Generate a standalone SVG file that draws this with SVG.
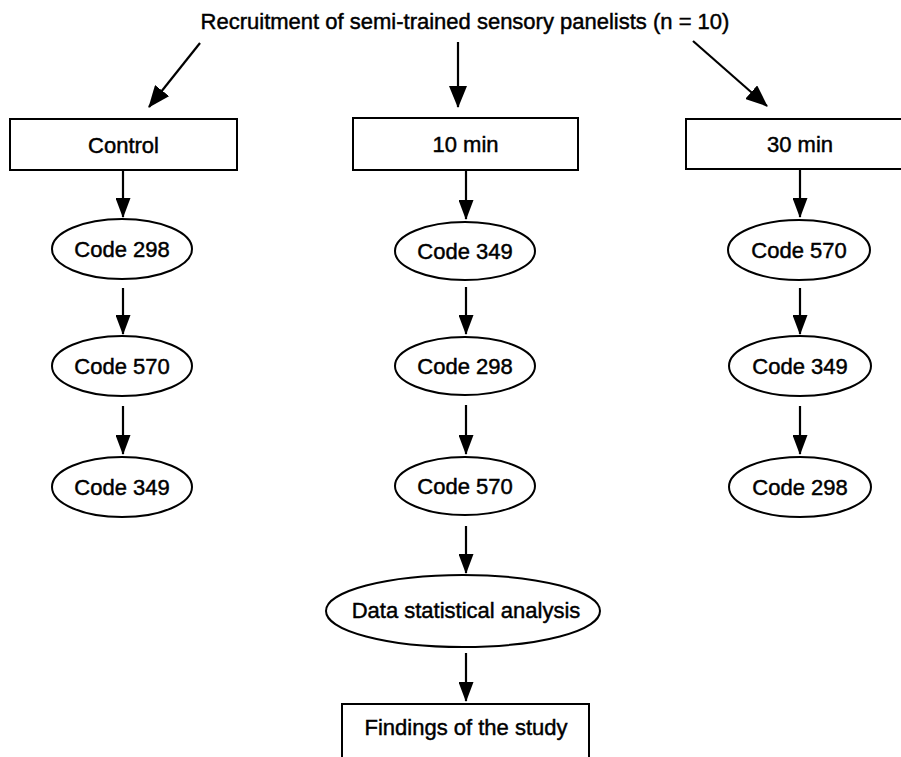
<svg xmlns="http://www.w3.org/2000/svg" width="901" height="757" viewBox="0 0 901 757">
<style>
  text { font-family: "Liberation Sans", Arial, sans-serif; font-size: 22px; fill: #000; stroke: #000; stroke-width: 0.45; text-anchor: middle; }
  .box { fill: #fff; stroke: #000; stroke-width: 2; }
  .ell { fill: #fff; stroke: #000; stroke-width: 2; }
  .con { stroke: #000; stroke-width: 2.2; fill: none; }
  .con line { marker-end: url(#ah); }
  .con line.big { marker-end: url(#ahb); }
</style>
<defs>
  <marker id="ah" markerUnits="userSpaceOnUse" viewBox="0 0 20 15" refX="19" refY="7.5" markerWidth="20" markerHeight="15" orient="auto">
    <path d="M0,0 L20,7.5 L0,15 z" fill="#000"/>
  </marker>
  <marker id="ahb" markerUnits="userSpaceOnUse" viewBox="0 0 22 18" refX="21" refY="9" markerWidth="22" markerHeight="18" orient="auto">
    <path d="M0,0 L22,9 L0,18 z" fill="#000"/>
  </marker>
</defs>
<rect width="901" height="757" fill="#fff"/>

<g id="title"><text x="465" y="29">Recruitment of semi-trained sensory panelists (n = 10)</text></g>

<g id="control"><rect class="box" x="10" y="119" width="227" height="51"/><text x="123.5" y="152.5">Control</text></g>
<g id="min10"><rect class="box" x="353" y="118" width="225" height="52"/><text x="465.5" y="152">10 min</text></g>
<g id="min30"><rect class="box" x="686" y="119" width="228" height="50"/><text x="800" y="152">30 min</text></g>

<g id="c1e1"><ellipse class="ell" cx="122" cy="249" rx="70" ry="30"/><text x="122" y="257">Code 298</text></g>
<g id="c1e2"><ellipse class="ell" cx="122" cy="366" rx="70" ry="30"/><text x="122" y="374">Code 570</text></g>
<g id="c1e3"><ellipse class="ell" cx="122" cy="487" rx="70" ry="30"/><text x="122" y="495">Code 349</text></g>

<g id="c2e1"><ellipse class="ell" cx="465" cy="251" rx="70" ry="29"/><text x="465" y="259">Code 349</text></g>
<g id="c2e2"><ellipse class="ell" cx="465" cy="366" rx="70" ry="29"/><text x="465" y="374">Code 298</text></g>
<g id="c2e3"><ellipse class="ell" cx="465" cy="486" rx="70" ry="29"/><text x="465" y="494">Code 570</text></g>

<g id="c3e1"><ellipse class="ell" cx="799" cy="250" rx="71" ry="30"/><text x="799" y="258">Code 570</text></g>
<g id="c3e2"><ellipse class="ell" cx="800" cy="366" rx="71" ry="30"/><text x="800" y="374">Code 349</text></g>
<g id="c3e3"><ellipse class="ell" cx="800" cy="487" rx="71" ry="30"/><text x="800" y="495">Code 298</text></g>

<g id="data"><ellipse class="ell" cx="463" cy="611" rx="137" ry="36"/><text x="466" y="618">Data statistical analysis</text></g>
<g id="findings"><rect class="box" x="342" y="704" width="247" height="60"/><text x="466" y="735">Findings of the study</text></g>

<g id="connectors" class="con">
  <line class="big" x1="200" y1="43" x2="149" y2="107"/>
  <line class="big" x1="458" y1="42" x2="458" y2="107"/>
  <line class="big" x1="693" y1="41" x2="767" y2="106"/>

  <line x1="123" y1="170" x2="123" y2="217"/>
  <line x1="123" y1="288" x2="123" y2="334"/>
  <line x1="123" y1="406" x2="123" y2="454"/>

  <line x1="466" y1="170" x2="466" y2="219"/>
  <line x1="466" y1="287" x2="466" y2="334"/>
  <line x1="466" y1="405" x2="466" y2="454"/>
  <line x1="466" y1="526" x2="466" y2="573"/>
  <line x1="466" y1="653" x2="466" y2="701"/>

  <line x1="800" y1="169" x2="800" y2="217"/>
  <line x1="800" y1="288" x2="800" y2="334"/>
  <line x1="800" y1="406" x2="800" y2="454"/>
</g>
</svg>
